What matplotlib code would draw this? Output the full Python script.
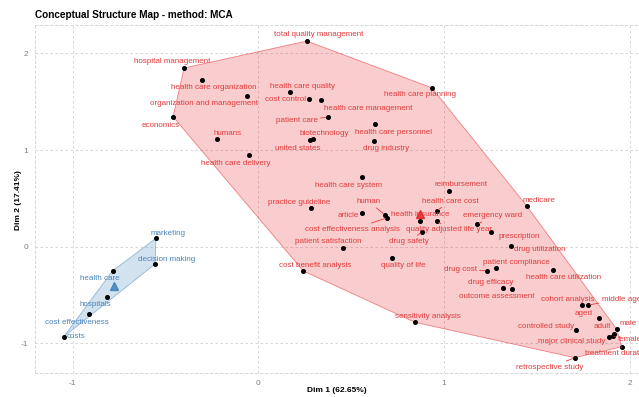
import numpy as np
import matplotlib.pyplot as plt

plt.rcParams['font.family'] = ['Liberation Sans', 'DejaVu Sans']
plt.rcParams['axes.unicode_minus'] = False

title = 'Conceptual Structure Map - method: MCA'
x_label = 'Dim 1 (62.65%)'
y_label = 'Dim 2 (17.41%)'

# cluster 1 (red)
red_terms = ['total quality management', 'hospital management', 'health care organization',
             'organization and management', 'economics', 'humans', 'health care delivery',
             'health care quality', 'cost control', 'health care management', 'patient care',
             'biotechnology', 'united states', 'health care planning', 'health care personnel',
             'drug industry', 'health care system', 'reimbursement', 'medicare', 'health care cost',
             'practice guideline', 'human', 'cost effectiveness analysis', 'article',
             'health insurance', 'quality adjusted life year', 'drug safety', 'emergency ward',
             'prescription', 'patient satisfaction', 'quality of life', 'cost benefit analysis',
             'drug utilization', 'patient compliance', 'drug cost', 'health care utilization',
             'drug efficacy', 'outcome assessment', 'cohort analysis', 'middle age', 'aged',
             'adult', 'male', 'female', 'major clinical study', 'controlled study',
             'treatment duration', 'retrospective study', 'sensitivity analysis']
red_x = [0.261, -0.400, -0.302, -0.059, -0.459, -0.222, -0.052,
         0.171, 0.275, 0.338, 0.374, 0.295, 0.278, 0.934, 0.628,
         0.625, 0.557, 1.027, 1.445, 0.961, 0.282, 0.682, 0.695, 0.560,
         0.871, 0.964, 0.883, 1.179, 1.253, 0.454, 0.718, 0.242,
         1.361, 1.278, 1.233, 1.585, 1.316, 1.365, 1.745, 1.777, 1.836,
         1.915, 1.930, 1.908, 1.889, 1.711, 1.957, 1.705, 0.844]
red_y = [2.127, 1.848, 1.727, 1.555, 1.344, 1.117, 0.945,
         1.597, 1.527, 1.517, 1.338, 1.114, 1.103, 1.644, 1.266,
         1.093, 0.724, 0.579, 0.424, 0.372, 0.397, 0.328, 0.300, 0.345,
         0.269, 0.266, 0.155, 0.230, 0.155, -0.017, -0.114, -0.251,
         0.007, -0.223, -0.248, -0.241, -0.427, -0.437, -0.603, -0.603, -0.737,
         -0.903, -0.854, -0.923, -0.937, -0.865, -1.034, -1.148, -0.782]
red_centroid = (0.871, 0.338)

# cluster 2 (blue)
blue_terms = ['marketing', 'decision making', 'health care', 'hospitals',
              'cost effectiveness', 'costs']
blue_x = [-0.551, -0.556, -0.784, -0.813, -0.910, -1.048]
blue_y = [0.087, -0.179, -0.248, -0.523, -0.699, -0.931]
blue_centroid = (-0.777, -0.406)

# where the labels sit relative to their dot (pixels, repel-like placement)
label_shift = {
    'total quality management': (11.5, 6.3), 'hospital management': (-12, 7),
    'health care organization': (12, -7.3), 'organization and management': (-43, -6.7),
    'economics': (-12.5, -8.3), 'humans': (10.5, 5.7), 'health care delivery': (-13, -8.3),
    'health care quality': (12, 5.6), 'cost control': (-24.3, -0.7),
    'health care management': (46.8, -8), 'patient care': (-31, -2.7),
    'biotechnology': (11.5, 5.7), 'united states': (-12, -8),
    'health care planning': (-12, -7), 'health care personnel': (18.8, -8),
    'drug industry': (11.7, -7), 'health care system': (-13, -8.3),
    'reimbursement': (11.7, 6.4), 'medicare': (12, 5.7), 'health care cost': (14, 9.7),
    'practice guideline': (-11.7, 6), 'human': (-16, 13.3),
    'cost effectiveness analysis': (-35, -11.6), 'article': (-14.3, -2),
    'health insurance': (0, 6.7), 'quality adjusted life year': (11.7, -9),
    'drug safety': (-13.5, -10), 'emergency ward': (15.7, 8.8), 'prescription': (27.8, -4.3),
    'patient satisfaction': (-14.4, 6.6), 'quality of life': (11.3, -8),
    'cost benefit analysis': (11.5, 5.3), 'drug utilization': (28.7, -3.3),
    'patient compliance': (20.6, 5.6), 'drug cost': (-27, 1.4),
    'health care utilization': (11, -7.7), 'drug efficacy': (-12, 5.7),
    'outcome assessment': (-15, -7.3), 'cohort analysis': (-15, 6), 'middle age': (33, 6),
    'aged': (-16, 4.7), 'adult': (-12, 7.3), 'male': (11, 6), 'female': (17.5, -4),
    'major clinical study': (-37, -3.7), 'controlled study': (-30, 3.6),
    'treatment duration': (-4.7, -7.3), 'retrospective study': (-25, -9.6),
    'sensitivity analysis': (12.5, 6),
    'marketing': (11.8, 5), 'decision making': (11.8, 5), 'health care': (-13, -7.6),
    'hospitals': (-12.5, -7.7), 'cost effectiveness': (-12, -8.4), 'costs': (12.5, 0),
}
with_segment = {'patient care', 'human', 'cost effectiveness analysis', 'health care cost',
                'quality adjusted life year', 'drug safety', 'emergency ward', 'drug cost',
                'middle age', 'female', 'treatment duration', 'retrospective study'}


def convex_hull(xs, ys):
    pts = sorted(set(zip(xs, ys)))

    def cross(o, a, b):
        return (a[0]-o[0])*(b[1]-o[1]) - (a[1]-o[1])*(b[0]-o[0])

    lower, upper = [], []
    for p in pts:
        while len(lower) >= 2 and cross(lower[-2], lower[-1], p) <= 0:
            lower.pop()
        lower.append(p)
    for p in reversed(pts):
        while len(upper) >= 2 and cross(upper[-2], upper[-1], p) <= 0:
            upper.pop()
        upper.append(p)
    return np.array(lower[:-1] + upper[:-1])


fig = plt.figure(figsize=(6.39, 3.97), dpi=100)
ax = fig.add_axes([35/639, 24/397, 604/639, 348/397])

clusters = [
    (red_terms, red_x, red_y, red_centroid, '#E41A1C', '#E23B3D'),
    (blue_terms, blue_x, blue_y, blue_centroid, '#377EB8', '#4A83BD'),
]

for terms, xs, ys, cen, col, tcol in clusters:
    h = convex_hull(xs, ys)
    ax.fill(h[:, 0], h[:, 1], facecolor=col, alpha=0.22, edgecolor='none', zorder=1)
    ax.fill(h[:, 0], h[:, 1], facecolor='none', edgecolor=col, alpha=0.5, lw=0.6, zorder=2)
    ax.plot(xs, ys, 'o', color='black', ms=2.6, zorder=4)
    ax.plot(cen[0], cen[1], '^', color=col, ms=6, alpha=0.8, zorder=5)
    for t, x, y in zip(terms, xs, ys):
        dx, dy = label_shift[t]
        arrow = None
        if t in with_segment:
            arrow = dict(arrowstyle='-', color=tcol, lw=0.6, shrinkA=0, shrinkB=1.5)
        ax.annotate(t, (x, y), xytext=(dx, dy), textcoords='offset pixels',
                    ha='center', va='center', fontsize=5.8, color=tcol,
                    arrowprops=arrow, zorder=6, annotation_clip=False)

ax.set_xlim(-1.2025, 2.05)
ax.set_ylim(-1.306, 2.293)
ax.set_xticks([-1, 0, 1, 2])
ax.set_yticks([-1, 0, 1, 2])
ax.grid(color='#d0d0d0', linestyle=(0, (3, 3)), linewidth=0.6)
ax.set_axisbelow(True)
for s in ax.spines.values():
    s.set_color('#d0d0d0')
    s.set_linestyle((0, (3, 3)))
    s.set_linewidth(0.6)
ax.tick_params(length=0, labelsize=6, labelcolor='#808080', pad=5)

fig.text(35/639, 1 - 15/397, title, fontsize=7.2, fontweight='bold', va='center', ha='left')
fig.text(337/639, 1 - 391/397, x_label, fontsize=6, fontweight='bold', va='center', ha='center')
fig.text(18/639, 1 - 200/397, y_label, fontsize=6, fontweight='bold', va='center', ha='center',
         rotation=90)

fig.savefig('out.png', dpi=100)
